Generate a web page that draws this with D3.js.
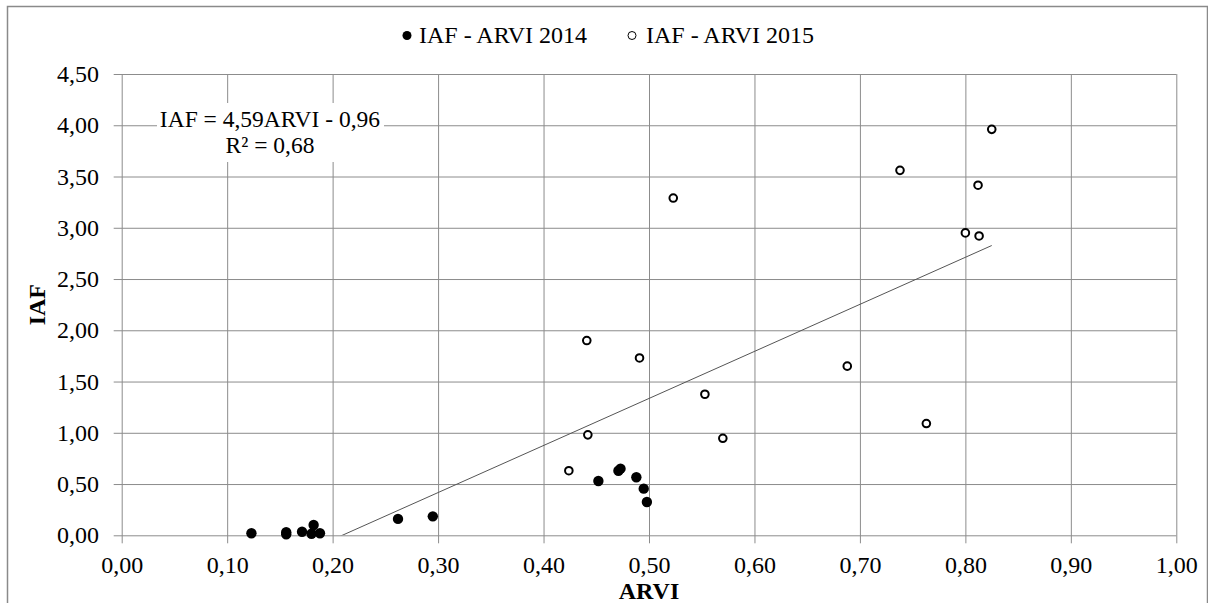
<!DOCTYPE html>
<html>
<head>
<meta charset="utf-8">
<script src="https://cdn.jsdelivr.net/npm/d3@7"></script>
<style>
  html, body { margin: 0; padding: 0; background: #fff; }
  svg { display: block; }
  svg text { font-family: "Liberation Serif", "Times New Roman", serif !important; }
</style>
</head>
<body>
<svg id="chart" width="1208" height="603"></svg>
<script>
// ARVI (x) and leaf area index IAF (y) for the two campaigns
const arvi2014 = [0.123, 0.156, 0.156, 0.171, 0.182, 0.180, 0.188, 0.262, 0.295, 0.452, 0.471, 0.473, 0.488, 0.495, 0.498];
const iaf2014  = [0.02, 0.03, 0.01, 0.035, 0.10, 0.015, 0.02, 0.16, 0.185, 0.53, 0.63, 0.65, 0.566, 0.455, 0.325];
const arvi2015 = [0.424, 0.441, 0.442, 0.491, 0.523, 0.553, 0.570, 0.688, 0.738, 0.763, 0.800, 0.812, 0.813, 0.825];
const iaf2015  = [0.63, 1.90, 0.98, 1.73, 3.29, 1.376, 0.946, 1.65, 3.56, 1.09, 2.95, 3.415, 2.92, 3.96];

const xTicks = [0, 0.1, 0.2, 0.3, 0.4, 0.5, 0.6, 0.7, 0.8, 0.9, 1.0];
const yTicks = [0, 0.5, 1.0, 1.5, 2.0, 2.5, 3.0, 3.5, 4.0, 4.5];

const seriesNames = ["IAF - ARVI 2014", "IAF - ARVI 2015"];
const fitSlope = 4.59, fitIntercept = -0.96;
const fitLabel = ["IAF = 4,59ARVI - 0,96", "R² = 0,68"];

(function () {
  const svg = d3.select("#chart");
  const pLeft = 121.7, pRight = 1176.3, pTop = 74, pBottom = 535.3;
  const x = d3.scaleLinear().domain([0, 1]).range([pLeft, pRight]);
  const y = d3.scaleLinear().domain([0, 4.5]).range([pBottom, pTop]);
  const fmt = v => d3.format(".2f")(v).replace(".", ",");
  const gridColor = "#8c8c8c";
  const fontSize = 24;

  // outer chart frame
  svg.append("rect")
    .attr("x", 7.5).attr("y", 6.5).attr("width", 1200).attr("height", 640)
    .attr("fill", "#fff").attr("stroke", "#8a8a8a").attr("stroke-width", 1.5);

  // vertical gridlines (extend below the plot as tick marks)
  const gx = svg.append("g").attr("transform", `translate(0,${pBottom})`)
    .call(d3.axisBottom(x).tickValues(xTicks).tickSizeOuter(0).tickFormat(""));
  gx.select(".domain").remove();
  gx.selectAll("line").attr("y1", 8).attr("y2", -(pBottom - pTop)).attr("stroke", gridColor);

  // horizontal gridlines (extend left of the plot as tick marks)
  const gy = svg.append("g").attr("transform", `translate(${pLeft},0)`)
    .call(d3.axisLeft(y).tickValues(yTicks).tickSizeOuter(0).tickFormat(""));
  gy.select(".domain").remove();
  gy.selectAll("line").attr("x1", -8).attr("x2", pRight - pLeft).attr("stroke", gridColor);

  // tick labels
  const ax = svg.append("g").attr("transform", `translate(0,${pBottom})`)
    .call(d3.axisBottom(x).tickValues(xTicks).tickSize(8).tickPadding(12.7).tickFormat(fmt));
  ax.select(".domain").remove();
  ax.selectAll("line").remove();
  ax.attr("font-size", fontSize);
  ax.selectAll("text").attr("fill", "#000");

  const ay = svg.append("g").attr("transform", `translate(${pLeft},0)`)
    .call(d3.axisLeft(y).tickValues(yTicks).tickSize(8).tickPadding(14.7).tickFormat(fmt));
  ay.select(".domain").remove();
  ay.selectAll("line").remove();
  ay.attr("font-size", fontSize);
  ay.selectAll("text").attr("fill", "#000");

  // linear fit, clipped to the plot area
  svg.append("clipPath").attr("id", "plotClip")
    .append("rect").attr("x", pLeft).attr("y", pTop).attr("width", pRight - pLeft).attr("height", pBottom - pTop);
  const fitX = d3.extent(arvi2014.concat(arvi2015));
  svg.append("line")
    .attr("clip-path", "url(#plotClip)")
    .attr("x1", x(fitX[0])).attr("y1", y(fitSlope * fitX[0] + fitIntercept))
    .attr("x2", x(fitX[1])).attr("y2", y(fitSlope * fitX[1] + fitIntercept))
    .attr("stroke", "#555").attr("stroke-width", 1);

  // equation label with white backing
  svg.append("rect").attr("x", 157).attr("y", 103).attr("width", 227).attr("height", 59).attr("fill", "#fff");
  svg.append("text").attr("x", 270).attr("y", 127).attr("text-anchor", "middle")
    .attr("font-size", 23.5).text(fitLabel[0]);
  svg.append("text").attr("x", 270).attr("y", 153).attr("text-anchor", "middle")
    .attr("font-size", 23.5).text(fitLabel[1]);

  // 2014 points: filled
  svg.append("g").selectAll("circle").data(d3.zip(arvi2014, iaf2014)).join("circle")
    .attr("cx", d => x(d[0])).attr("cy", d => y(d[1])).attr("r", 5.2).attr("fill", "#000");

  // 2015 points: open
  svg.append("g").selectAll("circle").data(d3.zip(arvi2015, iaf2015)).join("circle")
    .attr("cx", d => x(d[0])).attr("cy", d => y(d[1])).attr("r", 3.8)
    .attr("fill", "#fff").attr("stroke", "#000").attr("stroke-width", 2);

  // axis titles
  svg.append("text").attr("x", (pLeft + pRight) / 2).attr("y", 599).attr("text-anchor", "middle")
    .attr("font-size", fontSize).attr("font-weight", "bold").text("ARVI");
  svg.append("text").attr("transform", `translate(45,${(pTop + pBottom) / 2}) rotate(-90)`)
    .attr("text-anchor", "middle").attr("font-size", fontSize).attr("font-weight", "bold").text("IAF");

  // legend
  const legend = svg.append("g");
  legend.append("circle").attr("cx", 407).attr("cy", 35.5).attr("r", 4.5).attr("fill", "#000");
  legend.append("text").attr("x", 419).attr("y", 43).attr("font-size", fontSize).text(seriesNames[0]);
  legend.append("circle").attr("cx", 632).attr("cy", 35.5).attr("r", 4).attr("fill", "#fff")
    .attr("stroke", "#000").attr("stroke-width", 1);
  legend.append("text").attr("x", 646).attr("y", 43).attr("font-size", fontSize).text(seriesNames[1]);
})();
</script>
</body>
</html>
